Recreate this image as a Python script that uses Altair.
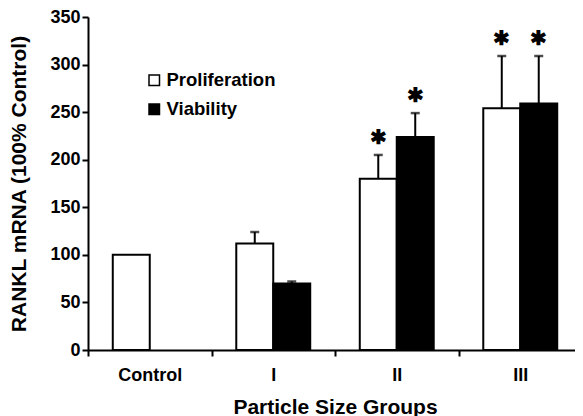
import altair as alt
import pandas as pd

groups = ["Control", "I", "II", "III"]
series = ["Proliferation", "Viability"]
prolif_mean = [100, 112, 180, 254]
prolif_upper = [None, 124, 205, 309]
viab_mean = [None, 70, 224, 259]
viab_upper = [None, 72, 249, 309]
prolif_sig = [False, False, True, True]
viab_sig = [False, False, True, True]

rows = []
for i, g in enumerate(groups):
    for s, m, u, sig in (("Proliferation", prolif_mean, prolif_upper, prolif_sig),
                         ("Viability", viab_mean, viab_upper, viab_sig)):
        if m[i] is None:
            continue
        rows.append({"group": g, "series": s, "value": m[i],
                     "upper": u[i], "sig": sig[i]})
df = pd.DataFrame(rows)

FONT = "Liberation Sans"

x = alt.X("group:N", sort=groups,
          scale=alt.Scale(paddingInner=0, paddingOuter=0, range=[0, 494]),
          axis=alt.Axis(title="Particle Size Groups", labelAngle=0,
                        tickBand="extent", titlePadding=12, labelPadding=10,
                        titleX=247))
xo = alt.XOffset("series:N", sort=series,
                 scale=alt.Scale(domain=series, paddingInner=0, paddingOuter=0.67))

bars = alt.Chart(df).mark_bar(stroke="black", strokeWidth=2).encode(
    x=x, xOffset=xo,
    y=alt.Y("value:Q", scale=alt.Scale(domain=[0, 350], nice=False),
            axis=alt.Axis(title="RANKL mRNA (100% Control)",
                          values=list(range(0, 351, 50)), titlePadding=20)),
    fill=alt.Fill("series:N", sort=series,
                  scale=alt.Scale(domain=series, range=["white", "black"]),
                  legend=alt.Legend(title=None, orient="none", legendX=57, legendY=54,
                                    symbolType="square", symbolSize=110,
                                    symbolStrokeColor="black", symbolStrokeWidth=1.5,
                                    labelFont=FONT, labelFontSize=18.5,
                                    labelFontWeight="bold", labelColor="black",
                                    rowPadding=10, labelOffset=3)),
)

err_df = df[df["upper"].notna()]
err = alt.Chart(err_df).mark_rule(color="black", strokeWidth=2).encode(
    x=x, xOffset=xo, y="value:Q", y2="upper:Q")
cap = alt.Chart(err_df).mark_tick(color="black", size=9, thickness=2.5).encode(
    x=x, xOffset=xo, y="upper:Q")
star = alt.Chart(df[df["sig"]]).mark_text(
    text="✱", fontSize=20, fontWeight="bold", color="black", dy=-17,
    baseline="middle").encode(x=x, xOffset=xo, y="upper:Q")

chart = alt.layer(bars, err, cap, star).properties(
    width=487, height=333,
    autosize=alt.AutoSizeParams(type="none"),
    padding={"left": 80, "top": 9, "right": 0, "bottom": 66},
).configure_view(stroke=None).configure_axis(
    grid=False, labelFont=FONT, labelFontSize=18, labelFontWeight="bold",
    labelColor="black", titleFont=FONT, titleFontSize=21, titleFontWeight="bold",
    titleColor="black", domainColor="black", domainWidth=2, tickColor="black",
    tickWidth=2, tickSize=6,
)

chart.save("out.html", embed_options={"renderer": "svg", "actions": False})
